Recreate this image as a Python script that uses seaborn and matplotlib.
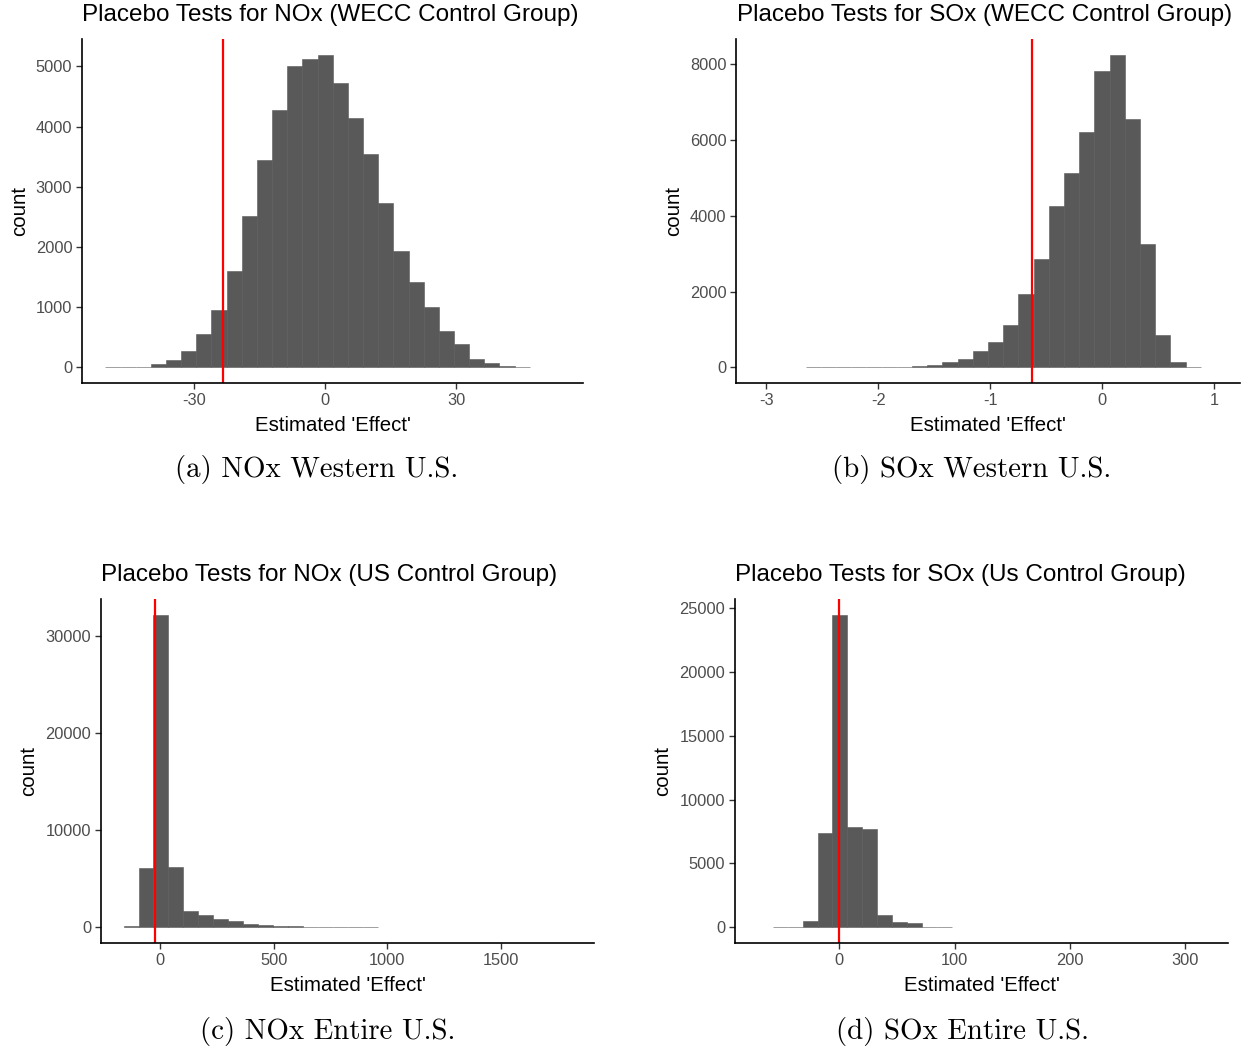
import numpy as np
import pandas as pd
import matplotlib
matplotlib.use("Agg")
import matplotlib.pyplot as plt
import seaborn as sns

# ---------------- data ----------------
# Panel (a): NOx, WECC control group
a_bin_start = -50.25
a_bin_width = 3.467
a_counts = [3, 5, 10, 50, 116, 277, 559, 958, 1600, 2514, 3444, 4280, 5006, 5127,
            5194, 4729, 4147, 3549, 2724, 1932, 1412, 1008, 598, 382, 138, 72, 22, 3]
a_treat = -23.45

# Panel (b): SOx, WECC control group
b_bin_start = -2.649
b_bin_width = 0.1357
b_counts = [2, 0, 3, 3, 3, 5, 10, 25, 70, 140, 230, 420, 660, 1116, 1934, 2848,
            4255, 5125, 6207, 7824, 8255, 6558, 3244, 862, 132, 10]
b_treat = -0.631

# Panel (c): NOx, US control group
c_bin_start = -159.8
c_bin_width = 65.7
c_counts = [100, 6081, 32150, 6184, 1674, 1230, 820, 615, 340, 240, 137, 100, 70,
            30, 20, 15, 10]
c_treat = -23.5

# Panel (d): SOx, US control group
d_bin_start = -57.6
d_bin_width = 12.91
d_counts = [20, 50, 470, 7422, 24479, 7890, 7682, 964, 417, 339, 52, 20]
d_treat = -0.63

titles = ["Placebo Tests for NOx (WECC Control Group)",
          "Placebo Tests for SOx (WECC Control Group)",
          "Placebo Tests for NOx (US Control Group)",
          "Placebo Tests for SOx (Us Control Group)"]
captions = ["(a) NOx Western U.S.", "(b) SOx Western U.S.",
            "(c) NOx Entire U.S.", "(d) SOx Entire U.S."]
x_ticks = [[-30, 0, 30], [-3, -2, -1, 0, 1], [0, 500, 1000, 1500], [0, 100, 200, 300]]
y_ticks = [[0, 1000, 2000, 3000, 4000, 5000], [0, 2000, 4000, 6000, 8000],
           [0, 10000, 20000, 30000], [0, 5000, 10000, 15000, 20000, 25000]]
xlabel = "Estimated 'Effect'"
ylabel = "count"

# ---------------- styling ----------------
sns.set_theme(style="white")
plt.rcParams["font.family"] = ["Liberation Sans", "DejaVu Sans"]

W, H = 1247, 1049
fig = plt.figure(figsize=(W / 100, H / 100), dpi=100)

# axes boxes in pixels: left, top, right, bottom
boxes = [(82, 39, 583, 383), (736, 39, 1240, 383),
         (101, 599, 594, 943), (735, 599, 1228, 943)]
xlims = [(-55.6, 59.0), (-3.27, 1.23), (-259, 1908), (-90.5, 337)]
title_pos = [(82, 15), (737, 15), (101, 575), (735, 575)]
cap_pos = [(317, 470), (972, 470), (328, 1031), (962, 1031)]

panels = [(a_bin_start, a_bin_width, a_counts, a_treat),
          (b_bin_start, b_bin_width, b_counts, b_treat),
          (c_bin_start, c_bin_width, c_counts, c_treat),
          (d_bin_start, d_bin_width, d_counts, d_treat)]

for i, (start, width, counts, treat) in enumerate(panels):
    l, t, r, b = boxes[i]
    ax = fig.add_axes([l / W, 1 - b / H, (r - l) / W, (b - t) / H])
    n = len(counts)
    centers = start + width * (np.arange(n) + 0.5)
    df = pd.DataFrame({"x": centers, "w": np.asarray(counts, dtype=float)})
    sns.histplot(data=df, x="x", weights="w", binwidth=width,
                 binrange=(start, start + width * n), ax=ax,
                 color="#595959", alpha=1, edgecolor="#595959", linewidth=0.4)
    ax.axvline(treat, color="red", lw=1.6)
    ymax = max(counts)
    ax.set_ylim(-0.05 * ymax, 1.05 * ymax)
    ax.set_xlim(*xlims[i])
    ax.set_xticks(x_ticks[i])
    ax.set_yticks(y_ticks[i])
    ax.set_xticklabels([f"{v}" for v in x_ticks[i]])
    ax.set_yticklabels([f"{v}" for v in y_ticks[i]])
    for s in ["top", "right"]:
        ax.spines[s].set_visible(False)
    for s in ["left", "bottom"]:
        ax.spines[s].set_color("black")
        ax.spines[s].set_linewidth(1.2)
    ax.tick_params(axis="both", length=4, width=1, color="#333333",
                   labelsize=11.8, labelcolor="#4D4D4D", pad=3, left=True, bottom=True)
    ax.set_xlabel(xlabel, fontsize=14.7, color="black", labelpad=6)
    ax.set_ylabel(ylabel, fontsize=14.7, color="black", labelpad=5)
    tx, ty = title_pos[i]
    fig.text(tx / W, 1 - ty / H, titles[i], fontsize=17.5, ha="left", va="center",
             color="black")
    cx, cy = cap_pos[i]
    fig.text(cx / W, 1 - cy / H, captions[i], fontsize=20.8, ha="center", va="center",
             family="cmr10", color="black")

fig.savefig("out.png", dpi=100, facecolor="white")
